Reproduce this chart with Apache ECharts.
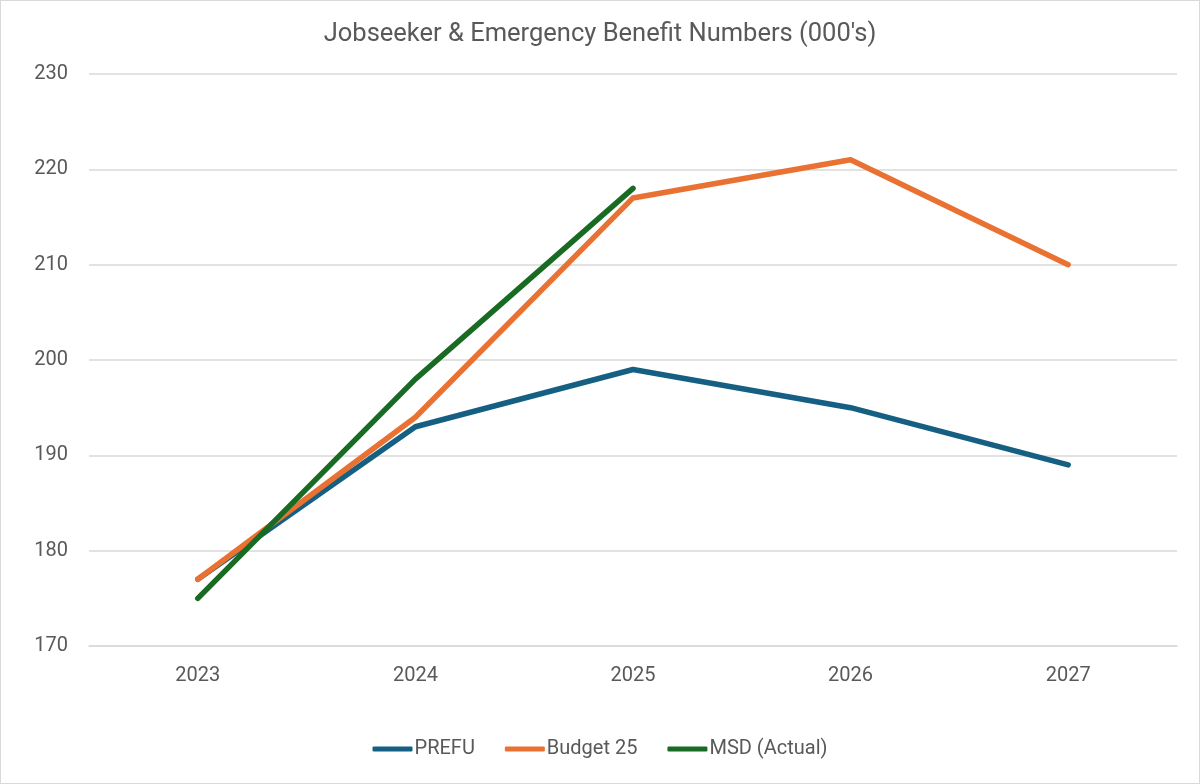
<!DOCTYPE html>
<html>
<head>
<meta charset="utf-8">
<script src="https://cdn.jsdelivr.net/npm/echarts@6/dist/echarts.min.js"></script>
<style>
html,body{margin:0;padding:0;background:#fff;}
#c{width:1200px;height:784px;box-sizing:border-box;border:1px solid #d9d9d9;}
</style>
</head>
<body>
<div id="c"></div>
<script>
const categories = ['2023','2024','2025','2026','2027'];
const prefu = [177, 193, 199, 195, 189];
const budget25 = [177, 194, 217, 221, 210];
const msdActual = [175, 198, 218, null, null];

const chart = echarts.init(document.getElementById('c'));
const font = 'Roboto, "Noto Sans", sans-serif';
chart.setOption({
  animation: false,
  title: {
    text: "Jobseeker & Emergency Benefit Numbers (000's)",
    left: 'center', top: 16,
    textStyle: {color: '#595959', fontSize: 25.5, fontWeight: 'normal', fontFamily: font}
  },
  legend: {
    bottom: 19, left: 'center', itemWidth: 40, itemHeight: 5, itemGap: 30,
    icon: 'roundRect',
    textStyle: {color: '#595959', fontSize: 20, fontFamily: font, padding: [0,0,0,-3]},
    data: ['PREFU','Budget 25','MSD (Actual)']
  },
  grid: {left: 88, right: 22, top: 73, bottom: 137},
  xAxis: {
    type: 'category', data: categories, boundaryGap: true,
    axisLine: {show: true, lineStyle: {color: '#d9d9d9', width: 1.5}},
    axisTick: {show: false},
    axisLabel: {color: '#595959', fontSize: 20, fontFamily: font, margin: 20}
  },
  yAxis: {
    type: 'value', min: 170, max: 230, interval: 10,
    axisLine: {show: false}, axisTick: {show: false},
    splitLine: {lineStyle: {color: '#d9d9d9', width: 1.5}},
    axisLabel: {color: '#595959', fontSize: 20, fontFamily: font, margin: 21}
  },
  series: [
    {name: 'PREFU', type: 'line', data: prefu, symbol: 'none', z: 2,
     lineStyle: {color: '#156082', width: 5.5, cap: 'round', join: 'round'}, itemStyle: {color: '#156082'}},
    {name: 'Budget 25', type: 'line', data: budget25, symbol: 'none', z: 3,
     lineStyle: {color: '#E97132', width: 5.5, cap: 'round', join: 'round'}, itemStyle: {color: '#E97132'}},
    {name: 'MSD (Actual)', type: 'line', data: msdActual, symbol: 'none', z: 4,
     lineStyle: {color: '#196B24', width: 5.5, cap: 'round', join: 'round'}, itemStyle: {color: '#196B24'}}
  ]
});
</script>
</body>
</html>
